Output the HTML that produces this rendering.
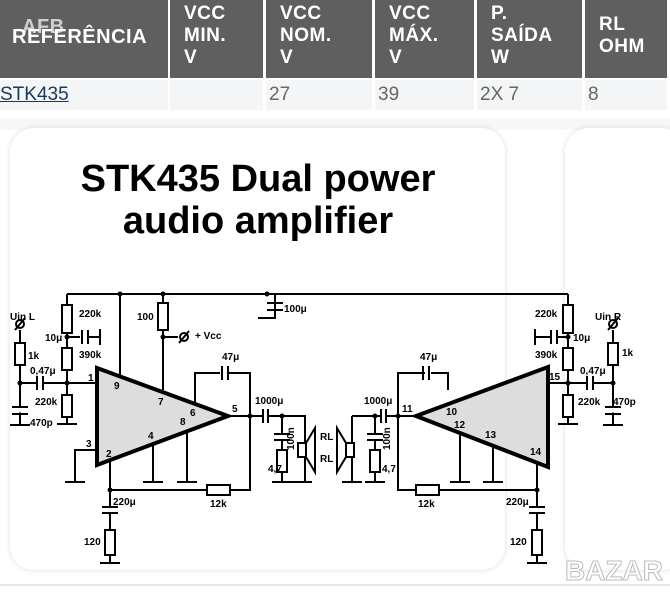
<!DOCTYPE html>
<html><head><meta charset="utf-8"><style>
body{margin:0;width:670px;height:600px;overflow:hidden;background:#fff;font-family:"Liberation Sans",sans-serif;position:relative}
.h{position:absolute;top:0;height:78px;background:#5f5f5f;color:#fff;font-weight:bold;font-size:19px;line-height:22px;padding-left:14px;box-sizing:border-box;letter-spacing:0.5px}
.d{position:absolute;top:80px;height:30px;background:#f3f5f7;color:#666;font-size:19px;line-height:30px;padding-left:3px;box-sizing:border-box}
</style></head><body>
<div class="h" style="left:0;width:168px;padding-left:12px;padding-top:26px;font-size:20px">REFERÊNCIA<span style="position:absolute;left:22px;top:16px;opacity:.7">AFB</span></div>
<div class="h" style="left:170px;width:93px;padding-top:3px">VCC<br>MIN.<br>V</div>
<div class="h" style="left:266px;width:106px;padding-top:3px">VCC<br>NOM.<br>V</div>
<div class="h" style="left:375px;width:99px;padding-top:3px">VCC<br>MÁX.<br>V</div>
<div class="h" style="left:477px;width:105px;padding-top:3px">P.<br>SAÍDA<br>W</div>
<div class="h" style="left:585px;width:82px;padding-top:14px">RL<br>OHM</div>
<div class="d" style="left:0;width:168px;padding-left:0;color:#1a3a5a;text-decoration:underline">STK435</div>
<div class="d" style="left:170px;width:93px"></div>
<div class="d" style="left:266px;width:106px">27</div>
<div class="d" style="left:375px;width:99px">39</div>
<div class="d" style="left:477px;width:105px">2X 7</div>
<div class="d" style="left:585px;width:82px">8</div>
<div style="position:absolute;left:0;top:118px;width:670px;height:12px;background:#f7f7f7"></div>
<div style="position:absolute;left:10px;top:128px;width:495px;height:442px;border-radius:24px;background:#fff;box-shadow:0 0 6px #ddd"></div>
<div style="position:absolute;left:565px;top:128px;width:120px;height:442px;border-radius:24px;background:#fff;box-shadow:0 0 6px #ddd"></div>
<div style="position:absolute;left:0;top:584px;width:670px;height:2px;background:#e6e6e6"></div>
<div style="position:absolute;left:0px;top:158px;width:516px;text-align:center;font-weight:bold;font-size:38px;line-height:42px;color:#000">STK435 Dual power<br>audio amplifier</div>
<div style="position:absolute;left:565px;top:555px;font-weight:bold;font-size:28px;color:#fff;-webkit-text-stroke:1px #bbb">BAZAR</div>
<svg style="position:absolute;left:0;top:0" width="670" height="600" font-family="Liberation Sans" font-weight="bold" font-size="10">
<g stroke="#000" stroke-width="2" fill="none">
<path d="M67 294H568M67 294V424M20 330V425M20 383H97M40 383H67"/>
<path d="M120 294V378M163 294V390M163 337H178M195 407V373H250V416M228 416H305V482M282 416V482M110 462V490H250V416M97 450H75V482M153 440V482M187 425V482M110 490V563"/>
<path d="M67 337H100M100 329V345"/>
<path d="M568 294V424M613 330V425M548 383H613M537 460V563M398 416H416M352 416H398M352 416V482M375 416V482M398 416V490H537M398 416V373H448V390M460 432V482M493 446V482M568 337H535M535 329V345"/>
</g>
<polygon points="97,368 228,416 97,465" fill="#ddd" stroke="#000" stroke-width="4"/>
<polygon points="548,367 416,416 548,467" fill="#ddd" stroke="#000" stroke-width="4"/>
<g stroke="#000" stroke-width="2" fill="#fff">
<rect x="62" y="305" width="10" height="28"/><rect x="62" y="348" width="10" height="22"/><rect x="62" y="395" width="10" height="22"/>
<rect x="15" y="343" width="10" height="22"/><rect x="158" y="303" width="10" height="27"/><rect x="277" y="450" width="10" height="22"/>
<rect x="105" y="530" width="10" height="25"/><rect x="207" y="485" width="23" height="10"/>
<rect x="563" y="305" width="10" height="28"/><rect x="563" y="348" width="10" height="22"/><rect x="563" y="395" width="10" height="22"/>
<rect x="608" y="343" width="10" height="22"/><rect x="370" y="450" width="10" height="22"/>
<rect x="532" y="530" width="10" height="25"/><rect x="416" y="485" width="23" height="10"/>
<rect x="298" y="443" width="8" height="14"/><rect x="346" y="443" width="8" height="14"/>
<path d="M306 443L315 428V472L306 457Z"/><path d="M346 443L337 428V472L346 457Z"/>
</g>
<g stroke="#fff" stroke-width="5">
<path d="M36 383h8M80 337h8M220 373h8M262 416h6M275 437h14M105 510h10M380 416h6M368 437h14M425 373h6M586 383h8M550 337h8M532 510h10"/>
<path d="M13 410h14M606 410h14"/>
</g>
<g stroke="#000" stroke-width="2">
<path d="M37 376v14M43 376v14M82 330v14M88 330v14M222 366v14M228 366v14M263 409v14M268 409v14M274 434h16M274 440h16M102 507h16M102 513h16M12 407h16M12 414h16M267 303h16M267 310h16M275 294V318"/>
<path d="M381 409v14M386 409v14M367 434h16M367 440h16M423 366v14M429 366v14M587 376v14M593 376v14M551 330v14M557 330v14M529 507h16M529 513h16M605 407h16M605 414h16"/>
<path d="M57 424h20M10 425h20M65 482h20M143 482h20M177 482h20M272 482h20M292 482h20M100 563h20M258 318h18M342 482h20M365 482h20M450 482h20M483 482h20M527 563h20M558 424h20M603 425h20"/>
</g>
<g fill="#000"><circle cx="20" cy="383" r="2.5"/><circle cx="67" cy="383" r="2.5"/><circle cx="67" cy="337" r="2.5"/><circle cx="120" cy="294" r="2.5"/><circle cx="163" cy="294" r="2.5"/><circle cx="163" cy="337" r="2.5"/><circle cx="267" cy="294" r="2.5"/><circle cx="250" cy="416" r="2.5"/><circle cx="282" cy="416" r="2.5"/><circle cx="110" cy="490" r="2.5"/>
<circle cx="568" cy="383" r="2.5"/><circle cx="613" cy="383" r="2.5"/><circle cx="568" cy="337" r="2.5"/><circle cx="398" cy="416" r="2.5"/><circle cx="375" cy="416" r="2.5"/><circle cx="537" cy="490" r="2.5"/></g>
<g stroke="#000" stroke-width="2" fill="none"><circle cx="20" cy="324" r="4"/><path d="M15 330l10-12"/><circle cx="184" cy="337" r="4"/><path d="M179 343l10-12"/><circle cx="613" cy="324" r="4"/><path d="M608 330l10-12"/></g>
<g fill="#000">
<text x="10" y="320">Uin L</text><text x="79" y="317">220k</text><text x="45" y="341">10μ</text><text x="79" y="358">390k</text><text x="28" y="359">1k</text><text x="30" y="374">0,47μ</text><text x="35" y="405">220k</text><text x="30" y="426">470p</text>
<text x="137" y="320">100</text><text x="195" y="339">+ Vcc</text><text x="284" y="312">100μ</text><text x="222" y="360">47μ</text><text x="255" y="404">1000μ</text>
<text x="88" y="381">1</text><text x="114" y="389">9</text><text x="158" y="405">7</text><text x="190" y="416">6</text><text x="180" y="425">8</text><text x="232" y="412">5</text><text x="148" y="439">4</text><text x="86" y="447">3</text><text x="106" y="457">2</text>
<text x="268" y="472">4,7</text><text x="320" y="440">RL</text><text x="320" y="462">RL</text><text x="210" y="507">12k</text><text x="113" y="505">220μ</text><text x="84" y="545">120</text>
<text x="420" y="360">47μ</text><text x="364" y="404">1000μ</text><text x="402" y="412">11</text><text x="446" y="415">10</text><text x="454" y="428">12</text><text x="485" y="438">13</text><text x="530" y="455">14</text><text x="549" y="380">15</text>
<text x="535" y="317">220k</text><text x="573" y="341">10μ</text><text x="535" y="358">390k</text><text x="595" y="320">Uin R</text><text x="622" y="356">1k</text><text x="580" y="374">0,47μ</text><text x="578" y="405">220k</text><text x="613" y="405">470p</text>
<text x="382" y="472">4,7</text><text x="418" y="507">12k</text><text x="506" y="505">220μ</text><text x="510" y="545">120</text>
<text transform="translate(294 450) rotate(-90)">100n</text><text transform="translate(390 450) rotate(-90)">100n</text>
</g>
</svg>
</body></html>
